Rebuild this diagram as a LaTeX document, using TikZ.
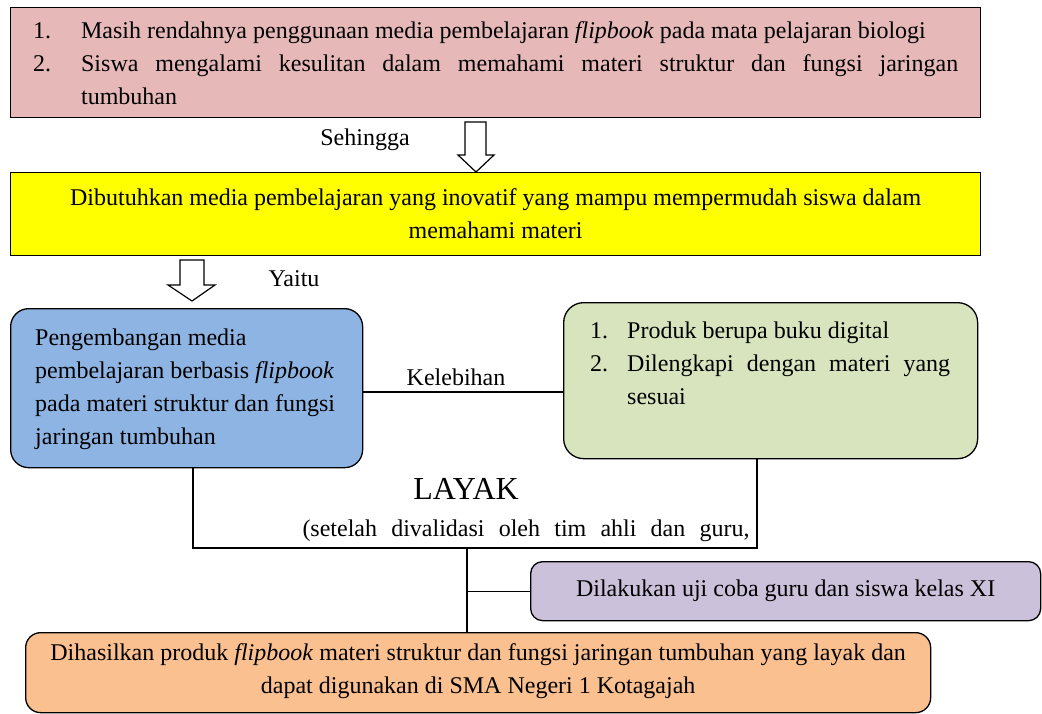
\documentclass[tikz,border=0pt]{standalone}
\usepackage{fontspec}
\setmainfont{Liberation Serif}
\definecolor{pinkc}{HTML}{E6B9B8}
\definecolor{yellowc}{HTML}{FFFF00}
\definecolor{bluec}{HTML}{8DB4E2}
\definecolor{greenc}{HTML}{D7E4BD}
\definecolor{purplec}{HTML}{CCC1DA}
\definecolor{orangec}{HTML}{FAC090}
\begin{document}
\begin{tikzpicture}[x=1pt,y=-1pt,
  box/.style={draw=black, line width=1.3pt, inner sep=0pt, anchor=north west},
  rbox/.style={box, rounded corners=#1},
  txt/.style={inner sep=0pt, font=\fontsize{24}{33}\selectfont},
  conn/.style={line width=1.2pt},
  hollow/.style={draw=black, line width=1.2pt, fill=white}]
\useasboundingbox (0,0) rectangle (1042,713);
% boxes
\node[box, fill=pinkc, minimum width=970pt, minimum height=110pt] (top) at (10,7) {};
\node[txt, text width=925pt, align=justify] (toptext) at ([yshift=-1pt]top.center) {%
\noindent\makebox[48pt][l]{1.}Masih rendahnya penggunaan media pembelajaran \textit{flipbook} pada mata pelajaran biologi\par
\hangindent=48pt\hangafter=1\noindent\makebox[48pt][l]{2.}Siswa mengalami kesulitan dalam memahami materi struktur dan fungsi jaringan\linebreak tumbuhan\par};
\node[box, fill=yellowc, minimum width=970pt, minimum height=83pt] (yel) at (10,172) {};
\node[txt, align=center] (yeltext) at (yel.center) {Dibutuhkan media pembelajaran yang inovatif yang mampu mempermudah siswa dalam\\memahami materi};
\node[rbox=18pt, fill=bluec, minimum width=352pt, minimum height=159pt] (blue) at (10,308) {};
\node[txt, align=left, anchor=west] (bluetext) at (35,389) {Pengembangan media\\pembelajaran berbasis \textit{flipbook}\\pada materi struktur dan fungsi\\jaringan tumbuhan};
\node[rbox=20pt, fill=greenc, minimum width=414pt, minimum height=156pt] (green) at (563,302) {};
\node[txt, text width=360pt, align=justify, anchor=north west] (greentext) at (590,322) {%
\noindent\makebox[37pt][l]{1.}Produk berupa buku digital\par
\hangindent=37pt\hangafter=1\noindent\makebox[37pt][l]{2.}Dilengkapi dengan materi yang\linebreak sesuai\par};
\node[rbox=12pt, fill=purplec, minimum width=510pt, minimum height=59pt] (purple) at (530,561) {};
\node[txt] (purpletext) at (purple.center) {Dilakukan uji coba guru dan siswa kelas XI};
\node[rbox=15pt, fill=orangec, minimum width=905pt, minimum height=80pt] (orange) at (25,632) {};
\node[txt, align=center] (orangetext) at ([yshift=2pt]orange.center) {Dihasilkan produk \textit{flipbook} materi struktur dan fungsi jaringan tumbuhan yang layak dan\\dapat digunakan di SMA Negeri 1 Kotagajah};
% labels
\node[txt, anchor=center] (seh) at (365,140) {Sehingga};
\node[txt, anchor=center] (yaitu) at (294,279) {Yaitu};
\node[txt, anchor=center] (keleb) at (456,377) {Kelebihan};
\node[txt, anchor=center, font=\fontsize{32}{36}\selectfont] (layak) at (466,489) {LAYAK};
\node[txt, anchor=center] (valid) at (526,531) {\makebox[447pt][s]{(setelah divalidasi oleh tim ahli dan guru,}};
% hollow arrows
\draw[hollow] (465,122) -- (486,122) -- (486,155) -- (494,155) -- (476,172) -- (458,155) -- (465,155) -- cycle;
\draw[hollow] (180,260) -- (204,260) -- (204,285) -- (215,285) -- (192,301) -- (168,285) -- (180,285) -- cycle;
% connectors
\coordinate (k) at (0,392);
\draw[conn] (blue.east |- k) -- (green.west |- k);
\coordinate (bl) at (193,548);
\coordinate (brr) at (757,548);
\coordinate (mid) at (467,548);
\draw[conn] (bl |- blue.south) -- (bl) -- (brr) -- (brr |- green.south);
\draw[conn] (mid) -- (mid |- orange.north);
\draw[conn] (purple.west -| mid) -- (purple.west);
\end{tikzpicture}
\end{document}
